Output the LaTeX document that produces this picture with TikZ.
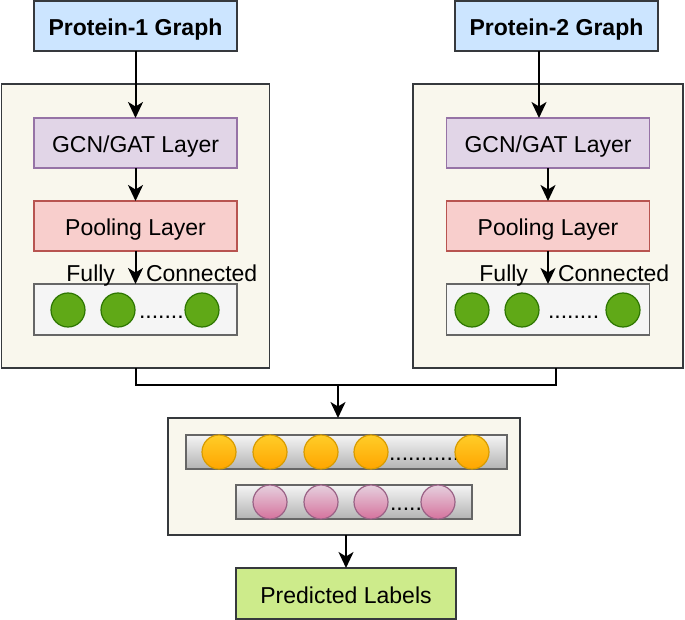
\documentclass[tikz,border=0pt]{standalone}
\usepackage{fontspec}
\setmainfont{Liberation Sans}
\usetikzlibrary{arrows.meta,shadings}
\definecolor{dk}{HTML}{36393D}
\definecolor{protfill}{HTML}{CCE5FF}
\definecolor{outfill}{HTML}{F9F7ED}
\definecolor{gcnfill}{HTML}{E1D5E7}
\definecolor{gcndraw}{HTML}{9673A6}
\definecolor{poolfill}{HTML}{F8CECC}
\definecolor{pooldraw}{HTML}{B85450}
\definecolor{fcfill}{HTML}{F5F5F5}
\definecolor{fcdraw}{HTML}{666666}
\definecolor{grfill}{HTML}{60A917}
\definecolor{grdraw}{HTML}{2D7600}
\definecolor{ortop}{HTML}{FFCD28}
\definecolor{orbot}{HTML}{FFA500}
\definecolor{ordraw}{HTML}{D79B00}
\definecolor{pktop}{HTML}{E6D0DE}
\definecolor{pkbot}{HTML}{D5739D}
\definecolor{pkdraw}{HTML}{996185}
\definecolor{barbot}{HTML}{B3B3B3}
\definecolor{predfill}{HTML}{CDEB8B}
\begin{document}
\begin{tikzpicture}[x=1pt,y=-1pt,
  every node/.style={font=\fontsize{23}{27}\selectfont, inner sep=0pt, outer sep=0pt},
  box/.style={rectangle, line width=1.5pt, minimum width=#1, text height=19.5pt, text depth=0pt},
  box/.default=203,
  protbox/.style={box, draw=dk, fill=protfill, minimum height=50, font=\fontsize{23}{27}\selectfont\bfseries},
  outerbox/.style={rectangle, line width=1.5pt, draw=dk, fill=outfill, minimum width=270, minimum height=284},
  gcnbox/.style={box, draw=gcndraw, fill=gcnfill, minimum height=50},
  poolbox/.style={box, draw=pooldraw, fill=poolfill, minimum height=50},
  fcbox/.style={box, draw=fcdraw, fill=fcfill, minimum height=51},
  gnode/.style={circle, line width=1.2pt, draw=grdraw, fill=grfill, minimum size=34},
  onode/.style={circle, line width=1.2pt, draw=ordraw, top color=ortop, bottom color=orbot, minimum size=34},
  pnode/.style={circle, line width=1.2pt, draw=pkdraw, top color=pktop, bottom color=pkbot, minimum size=34},
  bar/.style={rectangle, line width=1.5pt, draw=fcdraw, top color=fcfill, bottom color=barbot, minimum height=34},
  predbox/.style={box=220, draw=dk, fill=predfill, minimum height=51},
  arr/.style={line width=2pt, -{Stealth[length=16pt,width=15pt,inset=4.5pt]}},
  conn/.style={line width=2pt},
  dots/.style={anchor=base west}
]
\fill[white] (0,0) rectangle (685,620);
\useasboundingbox (0,0) rectangle (685,620);

% outer boxes
\node[outerbox, minimum width=268] (L) at (135.5,226) {};
\node[outerbox] (R) at (548,226) {};
\node[rectangle, line width=1.5pt, draw=dk, fill=outfill, minimum width=352, minimum height=117] (B) at (344,476.5) {};

% protein graphs
\node[protbox] (P1) at (135.5,26) {Protein-1 Graph};
\node[protbox] (P2) at (556.5,26) {Protein-2 Graph};

% left column
\node[gcnbox] (G1) at (135.5,143) {GCN/GAT Layer};
\node[poolbox] (Q1) at (135.5,226) {Pooling Layer};
\node[fcbox] (F1) at (135.5,309.5) {};
\node[dots] (d1) at (139,318.5) {.......};
\node[gnode] (c11) at (68,310) {};
\node[gnode] (c12) at (118,310) {};
\node[gnode] (c13) at (202,310) {};
\node[anchor=base east] (fu1) at (115,282) {Fully};
\node[anchor=base west] (co1) at (146,282) {Connected};

% right column
\node[gcnbox] (G2) at (548,143) {GCN/GAT Layer};
\node[poolbox] (Q2) at (548,226) {Pooling Layer};
\node[fcbox] (F2) at (548,309.5) {};
\node[dots] (d2) at (548,318.5) {........};
\node[gnode] (c21) at (472,310) {};
\node[gnode] (c22) at (522,310) {};
\node[gnode] (c23) at (623,310) {};
\node[anchor=base east] (fu2) at (528,282) {Fully};
\node[anchor=base west] (co2) at (558,282) {Connected};

% bottom combined box
\node[bar, minimum width=321] (ob) at (346.5,452) {};
\node[dots] (d3) at (389,460.5) {...........};
\node[onode] (o1) at (219,452) {};
\node[onode] (o2) at (270,452) {};
\node[onode] (o3) at (321,452) {};
\node[onode] (o4) at (371,452) {};
\node[onode] (o5) at (472,452) {};
\node[bar, minimum width=236] (pb) at (354,502) {};
\node[dots] (d4) at (390,510.5) {.....};
\node[pnode] (p1) at (270,502) {};
\node[pnode] (p2) at (321,502) {};
\node[pnode] (p3) at (371,502) {};
\node[pnode] (p4) at (438,502) {};

\node[predbox] (PL) at (346,593.5) {Predicted Labels};

% connectors
\draw[arr] (P1.south) -- (G1.north);
\draw[arr] (G1.south) -- (Q1.north);
\draw[arr] (Q1.south) -- (F1.north);
\draw[arr] ([xshift=-17.5pt]P2.south) -- ([xshift=-9pt]G2.north);
\draw[arr] (G2.south) -- (Q2.north);
\draw[arr] (Q2.south) -- (F2.north);
\coordinate (J) at (338,384.5);
\draw[conn] (L.south) |- (J);
\draw[conn] ([xshift=8pt]R.south) |- (J);
\draw[arr] (J) -- ([xshift=-6pt]B.north);
\draw[arr] (B.south -| PL.north) -- (PL.north);
\end{tikzpicture}
\end{document}
